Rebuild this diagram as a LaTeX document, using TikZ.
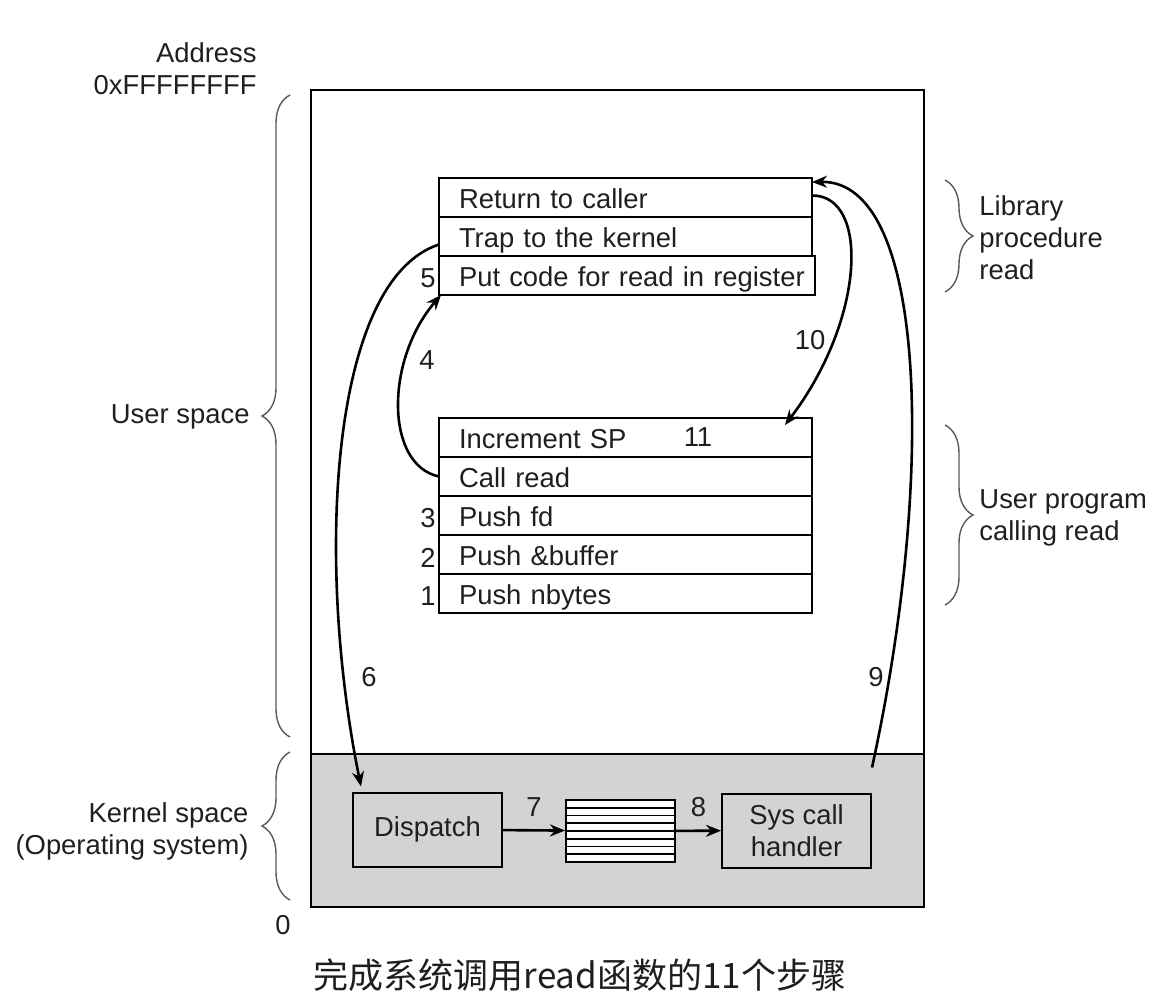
\documentclass[tikz,border=0pt]{standalone}
\usepackage{fontspec}
\setmainfont{Liberation Sans}
\newfontfamily\cjkfont{Noto Sans CJK SC}
\usepackage{tikz}
\usetikzlibrary{positioning,arrows.meta,decorations.pathreplacing}
\definecolor{kgray}{RGB}{211,211,211}

\begin{document}
\begin{tikzpicture}[x=0.5pt, y=-0.5pt, thick,
    every node/.style={font=\fontsize{13.7}{16}\selectfont, text=black!88},
    stackrow/.style={draw, line width=1pt, text width=178.5pt, inner xsep=4pt, inner ysep=0pt,
                     text height=12pt, text depth=1pt,
                     minimum height=19.5pt, align=left, outer sep=0pt,
                     execute at begin node={\hspace*{6pt}}},
    steplbl/.style={yshift=-1.5pt},
    kbox/.style={draw, line width=1pt, fill=kgray, align=center, minimum width=74.5pt, minimum height=37pt},
    arr/.style={-{Stealth[length=7.5pt,width=6pt]}, line width=1.3pt},
    brc/.style={decorate, decoration={brace, amplitude=14pt}, black!65, line width=0.7pt}]
    \useasboundingbox (0,0) rectangle (1153,1002);

    % --- Address space ---
    \fill[kgray] (311,754) rectangle (924,907);
    \draw[line width=1pt] (311,90) rectangle (924,907);
    \draw[line width=1pt] (311,754) -- (924,754);

    % --- Library procedure read ---
    \node[stackrow, anchor=north west] (ret) at (439,178) {Return to caller};
    \node[stackrow, below=0pt of ret] (trap) {Trap to the kernel};
    \node[stackrow, text width=180pt, below right=0pt and 0pt of trap.south west] (putcode) {Put code for read in register};
    \node[steplbl, left=-2pt of putcode] (n5) {5};

    % --- User program calling read ---
    \node[stackrow, anchor=north west] (incsp) at (439,418) {Increment SP};
    \node[stackrow, below=0pt of incsp] (callrd) {Call read};
    \node[stackrow, below=0pt of callrd] (pushfd) {Push fd};
    \node[stackrow, below=0pt of pushfd] (pushbuf) {Push \&buffer};
    \node[stackrow, below=0pt of pushbuf] (pushnb) {Push nbytes};
    \node[steplbl, left=-2pt of pushfd] (n3) {3};
    \node[steplbl, left=-2pt of pushbuf] (n2) {2};
    \node[steplbl, left=-2pt of pushnb] (n1) {1};
    \node (n11) at (698,437) {11};

    % --- Kernel space ---
    \node[kbox] (dispatch) at (427.5,829.5) {Dispatch};
    \node[draw, line width=1pt, fill=white, minimum width=54.5pt, minimum height=31pt, inner sep=0pt] (table) at (620.5,831) {};
    \foreach \k in {1,...,7}
        \draw[line width=0.9pt] (566,{800+\k*7.75}) -- (675,{800+\k*7.75});
    \node[kbox] (syscall) at (796.5,830.5) {Sys call\\handler};

    \draw[arr] (dispatch) -- (table) node[midway, above=3pt] {7};
    \draw[arr] (table) -- (syscall) node[midway, above=3pt] {8};

    % --- Steps 4, 6, 9, 10 ---
    \draw[arr] (callrd.west) .. controls (385,465) and (385,360) .. ([xshift=1pt]putcode.south west);
    \node (n4) at (427,360) {4};
    \draw[arr] ([yshift=-4pt]trap.west) .. controls (330,280) and (315,560) .. ([xshift=4.5pt,yshift=2.5pt]dispatch.north west);
    \node (n6) at (369,677) {6};
    \draw[arr] ([yshift=12.5pt]syscall.north east) .. controls (935,480) and (928,180) .. ([yshift=-2pt]ret.north east);
    \node (n9) at (876,677) {9};
    \draw[arr] ([yshift=1pt]ret.east) .. controls (870,195) and (865,320) .. ([xshift=-13.5pt,yshift=-3.5pt]incsp.north east);
    \node (n10) at (810,340) {10};

    % --- Braces and side labels ---
    \draw[brc] (290,737) -- (290,95);
    \draw[brc] (290,900) -- (290,752);
    \draw[brc] (945,180) -- (945,292);
    \draw[brc] (945,425) -- (945,605);

    \node[anchor=east, align=right] (addr) at (264,68.5) {Address\\0xFFFFFFFF};
    \node[anchor=east] (usr) at (257,417) {User space};
    \node[anchor=east, align=right] (krn) at (256,831.5) {Kernel space\\(Operating system)};
    \node (zero) at (283,925) {0};
    \node[anchor=west, align=left] (libl) at (972,238) {Library\\procedure\\read};
    \node[anchor=west, align=left] (upl) at (972,518) {User program\\calling read};

    % --- Caption ---
    \node (cap) at (580,975) {\cjkfont\fontsize{17.5}{20}\selectfont 完成系统调用read函数的11个步骤};
\end{tikzpicture}
\end{document}
